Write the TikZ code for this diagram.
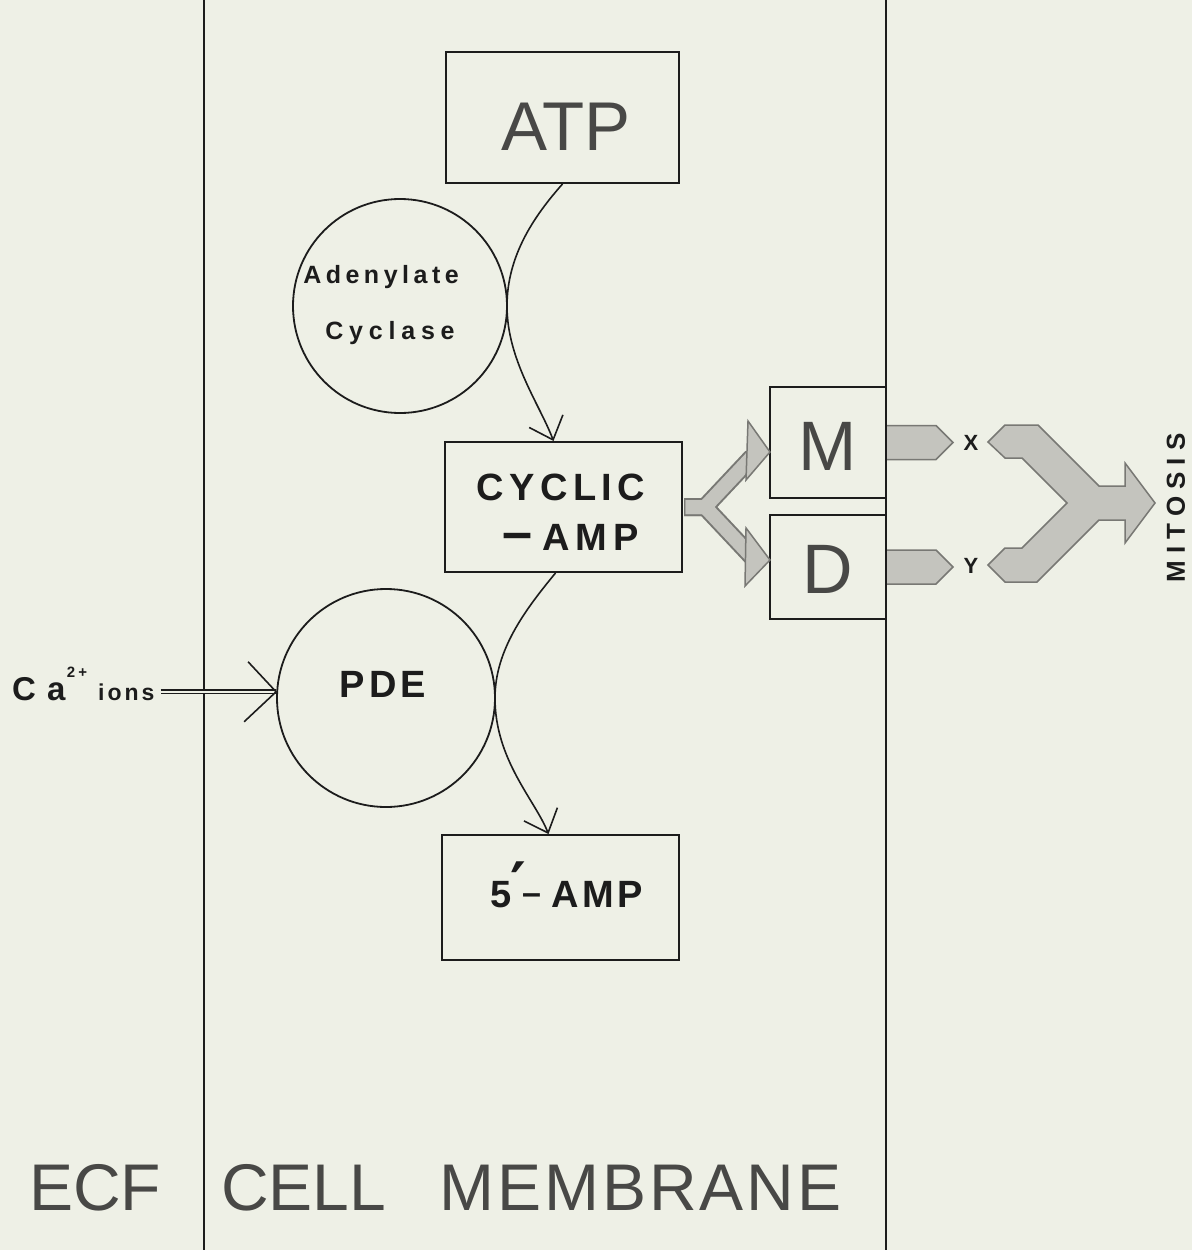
\documentclass[tikz,border=0pt]{standalone}
\usepackage{fontspec}
\setmainfont{Liberation Sans}
\newfontfamily\djv{DejaVu Sans}
\usetikzlibrary{arrows.meta,calc}
\definecolor{bgc}{RGB}{238,240,230}
\definecolor{inkg}{RGB}{72,72,70}
\definecolor{ink}{RGB}{28,28,28}
\definecolor{gfill}{RGB}{196,196,190}
\definecolor{gedge}{RGB}{120,120,116}
\makeatletter
\newcommand\spreadtxt[2]{\def\spread@k{#1}\spread@a#2\@nil\kern-\spread@k}
\def\spread@a#1{\ifx#1\@nil\else#1\kern\spread@k\expandafter\spread@a\fi}
\makeatother
\tikzset{
  box/.style={draw=ink, line width=2pt, inner sep=0pt, rectangle},
  enz/.style={draw=ink, line width=1.8pt, circle, inner sep=0pt},
  memb/.style={draw=ink, line width=2pt},
  conn/.style={draw=ink, line width=1.6pt, -{Straight Barb[length=20pt,width=36pt,line width=1.6pt]}},
  garrow/.style={fill=gfill, draw=gedge, line width=1.5pt, line join=miter},
  lbl/.style={text=ink, inner sep=0pt},
  big/.style={text=inkg, inner sep=0pt},
}
\begin{document}
\begin{tikzpicture}[x=1pt, y=-1pt]
\fill[bgc] (0,0) rectangle (1192,1250);
\useasboundingbox (0,0) rectangle (1192,1250);

% membrane lines
\draw[memb] (204,0) -- (204,1250);
\draw[memb] (886,0) -- (886,1250);

% boxes
\node[box, minimum width=233pt, minimum height=131pt] (atp) at (562.5,117.5) {};
\node[box, minimum width=237pt, minimum height=130pt] (cyc) at (563.5,507) {};
\node[box, minimum width=237pt, minimum height=125pt] (amp5) at (560.5,897.5) {};
\node[box, minimum width=116pt, minimum height=111pt] (m) at (828,442.5) {};
\node[box, minimum width=116pt, minimum height=104pt] (d) at (828,567) {};

% enzymes
\node[enz, minimum size=214pt] (ac) at (400,306) {};
\node[enz, minimum size=218pt] (pde) at (386,698) {};

% texts
\node[big, anchor=base, font=\fontsize{69}{72}\selectfont] (atpt) at (566,150) {ATP};
\node[lbl, anchor=base, font=\bfseries\fontsize{25}{28}\selectfont] (act1) at (381,283) {\spreadtxt{4.5pt}{Adenylate}};
\node[lbl, anchor=base, font=\bfseries\fontsize{25}{28}\selectfont] (act2) at (390,339) {\spreadtxt{5.8pt}{Cyclase}};
\node[lbl, anchor=base, font=\bfseries\fontsize{38}{40}\selectfont] (cyct1) at (561,500) {\spreadtxt{5.4pt}{CYCLIC}};
\node[lbl, anchor=base west, font=\bfseries\fontsize{38}{40}\selectfont] (cyct2) at (502,550) {{\fontsize{54}{54}\selectfont –}\kern10pt\spreadtxt{6pt}{AMP}};
\node[lbl, anchor=base west, font=\bfseries\fontsize{38}{40}\selectfont] (ampt) at (490,907) {5\kern-1pt\raisebox{2pt}{\djv\fontsize{60}{60}\selectfont ′}\kern-4pt\raisebox{3pt}{\fontsize{34}{34}\selectfont –}\kern10pt\spreadtxt{3.5pt}{AMP}};
\node[lbl, anchor=base, font=\bfseries\fontsize{38}{40}\selectfont] (pdet) at (383,697) {\spreadtxt{4pt}{PDE}};
\node[big, anchor=base, font=\fontsize{70}{72}\selectfont] (mt) at (828,470) {M};
\node[big, anchor=base, font=\fontsize{70}{72}\selectfont] (dt) at (828,593) {D};
\node[lbl, anchor=base, font=\bfseries\fontsize{22}{24}\selectfont] (xl) at (971,450) {X};
\node[lbl, anchor=base, font=\bfseries\fontsize{22}{24}\selectfont] (yl) at (971,573) {Y};
\node[lbl, rotate=90, font=\bfseries\fontsize{26}{28}\selectfont] (mit) at (1176,508) {\spreadtxt{7pt}{MITOSIS}};

\node[lbl, anchor=base west, font=\bfseries\fontsize{33}{36}\selectfont] (ca) at (12,700) {\spreadtxt{11pt}{Ca}};
\node[lbl, anchor=base, font=\bfseries\fontsize{15}{15}\selectfont] (chg) at (77,677) {\spreadtxt{3pt}{2+}};
\node[lbl, anchor=base west, font=\bfseries\fontsize{23}{24}\selectfont] (ions) at (98,700) {\spreadtxt{3pt}{ions}};

\node[big, anchor=base west, font=\fontsize{66}{70}\selectfont] (ecf) at (29,1210) {ECF};
\node[big, anchor=base west, font=\fontsize{66}{70}\selectfont] (cell) at (221,1210) {CELL};
\node[big, anchor=base west, font=\fontsize{66}{70}\selectfont] (membr) at (439,1210) {\spreadtxt{3pt}{MEMBRANE}};

% curved connectors
\coordinate (t1) at (507,306);
\coordinate (t2) at (495,698);
\draw[conn] (atp.south) .. controls (535,215) and (507,255) .. (t1)
  .. controls (507,360) and (540,405) .. ([xshift=-10pt]cyc.north);
\draw[conn] ([xshift=-8pt]cyc.south) .. controls (525,610) and (495,650) .. (t2)
  .. controls (495,760) and (535,800) .. ([xshift=-12pt]amp5.north);

% Ca2+ double arrow
\coordinate (catip) at (ions.east -| pde.west);
\draw[draw=ink, line width=1.3pt, double=bgc, double distance=2.4pt] ([xshift=6pt]ions.east) -- (catip);
\draw[draw=ink, line width=1.6pt] ($(catip)+(-28,-30)$) -- (catip) -- ($(catip)+(-32,30)$);

% grey fork from cyclic-AMP to M and D
\coordinate (fk) at ($(cyc.east)+(22,0)$);
\draw[gedge, line width=18pt, line join=miter] ([xshift=1pt]cyc.east) -- (fk) -- (752,457);
\draw[gedge, line width=18pt, line join=miter] ([xshift=1pt]cyc.east) -- (fk) -- (752,557);
\draw[gfill, line width=14pt, line join=miter] ([xshift=2.5pt]cyc.east) -- (fk) -- (752,457);
\draw[gfill, line width=14pt, line join=miter] ([xshift=2.5pt]cyc.east) -- (fk) -- (752,557);
\filldraw[garrow] (748,421) -- ($(m.west)+(1,9.5)$) -- (746,480) -- cycle;
\filldraw[garrow] (746,528) -- ($(d.west)+(1,-7)$) -- (745,586) -- cycle;

% M -> X and D -> Y
\filldraw[garrow] ($(m.east)+(0,-17)$) -- ++(49,0) -- ++(17,17) -- ++(-17,17) -- ++(-49,0);
\filldraw[garrow] ($(d.east)+(0,-17)$) -- ++(49,0) -- ++(17,17) -- ++(-17,17) -- ++(-49,0);

% X,Y -> MITOSIS
\filldraw[garrow] (988,442) -- (1005,425) -- (1038,425) -- (1099,486) -- (1125,486)
  -- (1125,463) -- (1155,503) -- (1125,543) -- (1125,520) -- (1099,520)
  -- (1037,582) -- (1005,582) -- (988,565) -- (1005,548) -- (1022,548)
  -- (1067,503) -- (1022,458) -- (1005,458) -- cycle;
\end{tikzpicture}
\end{document}
